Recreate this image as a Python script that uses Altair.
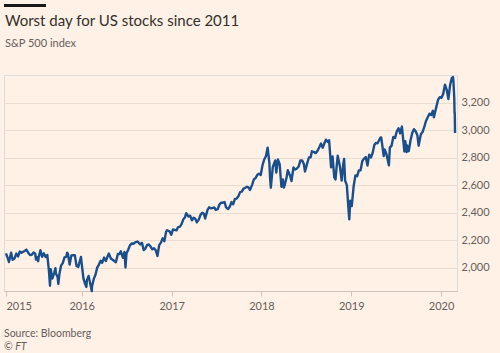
import altair as alt
import pandas as pd

# ---- data (S&P 500 index) ----
dates = [
    "2015-02-27","2015-03-06","2015-03-11","2015-03-20","2015-03-26","2015-04-03","2015-04-10","2015-04-17",
    "2015-04-24","2015-05-01","2015-05-08","2015-05-15","2015-05-21","2015-05-29","2015-06-05","2015-06-12",
    "2015-06-19","2015-06-26","2015-06-29","2015-07-03","2015-07-08","2015-07-10","2015-07-17","2015-07-24",
    "2015-07-31","2015-08-07","2015-08-14","2015-08-21","2015-08-25","2015-08-28","2015-09-04","2015-09-11",
    "2015-09-16","2015-09-18","2015-09-25","2015-09-28","2015-10-02","2015-10-09","2015-10-16","2015-10-23",
    "2015-10-30","2015-11-03","2015-11-06","2015-11-13","2015-11-20","2015-11-27","2015-12-04","2015-12-11",
    "2015-12-18","2015-12-29","2015-12-31",
    "2016-01-08","2016-01-15","2016-01-20","2016-01-22","2016-01-29","2016-02-05","2016-02-11","2016-02-12",
    "2016-02-19","2016-02-26","2016-03-04","2016-03-11","2016-03-18","2016-03-24","2016-04-01","2016-04-08",
    "2016-04-15","2016-04-20","2016-04-29","2016-05-06","2016-05-13","2016-05-19","2016-05-27","2016-06-03",
    "2016-06-08","2016-06-17","2016-06-23","2016-06-27","2016-07-01","2016-07-08","2016-07-15","2016-07-22",
    "2016-07-29","2016-08-05","2016-08-15","2016-08-26","2016-09-02","2016-09-09","2016-09-16","2016-09-23",
    "2016-09-30","2016-10-07","2016-10-14","2016-10-21","2016-10-28","2016-11-04","2016-11-11","2016-11-18",
    "2016-11-25","2016-12-02","2016-12-09","2016-12-13","2016-12-23","2016-12-30",
    "2017-01-06","2017-01-13","2017-01-20","2017-01-27","2017-02-03","2017-02-10","2017-02-17","2017-02-24",
    "2017-03-01","2017-03-10","2017-03-17","2017-03-24","2017-03-31","2017-04-07","2017-04-13","2017-04-21",
    "2017-04-28","2017-05-05","2017-05-12","2017-05-17","2017-05-26","2017-06-02","2017-06-09","2017-06-16",
    "2017-06-23","2017-06-29","2017-07-07","2017-07-14","2017-07-21","2017-07-28","2017-08-04","2017-08-10",
    "2017-08-18","2017-08-25","2017-09-01","2017-09-08","2017-09-15","2017-09-22","2017-09-29","2017-10-06",
    "2017-10-13","2017-10-20","2017-10-27","2017-11-03","2017-11-10","2017-11-15","2017-11-24","2017-12-01",
    "2017-12-08","2017-12-15","2017-12-22","2017-12-29",
    "2018-01-05","2018-01-12","2018-01-19","2018-01-26","2018-02-02","2018-02-05","2018-02-08","2018-02-16",
    "2018-02-26","2018-03-02","2018-03-09","2018-03-16","2018-03-23","2018-03-29","2018-04-02","2018-04-06",
    "2018-04-13","2018-04-18","2018-04-27","2018-05-03","2018-05-11","2018-05-18","2018-05-25","2018-06-01",
    "2018-06-08","2018-06-15","2018-06-22","2018-06-27","2018-07-06","2018-07-13","2018-07-20","2018-07-25",
    "2018-08-03","2018-08-10","2018-08-17","2018-08-24","2018-08-31","2018-09-07","2018-09-14","2018-09-20",
    "2018-09-28","2018-10-03","2018-10-11","2018-10-17","2018-10-24","2018-10-29","2018-11-02","2018-11-07",
    "2018-11-16","2018-11-23","2018-11-30","2018-12-03","2018-12-07","2018-12-14","2018-12-21","2018-12-24",
    "2018-12-28",
    "2019-01-03","2019-01-11","2019-01-18","2019-01-25","2019-02-01","2019-02-08","2019-02-15","2019-02-22",
    "2019-03-01","2019-03-08","2019-03-15","2019-03-22","2019-03-29","2019-04-05","2019-04-12","2019-04-18",
    "2019-04-30","2019-05-03","2019-05-13","2019-05-17","2019-05-24","2019-06-03","2019-06-07","2019-06-14",
    "2019-06-21","2019-06-28","2019-07-05","2019-07-12","2019-07-19","2019-07-26","2019-08-05","2019-08-09",
    "2019-08-14","2019-08-16","2019-08-23","2019-08-30","2019-09-06","2019-09-13","2019-09-20","2019-09-27",
    "2019-10-02","2019-10-11","2019-10-18","2019-10-25","2019-11-01","2019-11-08","2019-11-15","2019-11-22",
    "2019-11-29","2019-12-03","2019-12-13","2019-12-20","2019-12-27",
    "2020-01-03","2020-01-10","2020-01-17","2020-01-24","2020-01-31","2020-02-07","2020-02-14","2020-02-19",
    "2020-02-21","2020-02-24","2020-02-25","2020-02-26","2020-02-27",
]
values = [
    2104,2071,2041,2108,2057,2067,2102,2081,
    2117,2108,2116,2123,2131,2107,2092,2094,
    2110,2101,2058,2077,2047,2076,2127,2079,
    2104,2078,2092,1971,1868,1989,1921,1961,
    1996,1958,1931,1882,1951,2014,2033,2075,
    2079,2109,2099,2023,2089,2090,2091,2012,
    2005,2078,2044,
    1922,1880,1859,1907,1940,1880,1829,1865,
    1918,1948,2000,2022,2050,2035,2073,2048,
    2081,2102,2065,2057,2047,2040,2099,2099,
    2119,2071,2113,2001,2103,2130,2162,2175,
    2174,2183,2190,2169,2180,2128,2139,2165,
    2168,2153,2133,2141,2126,2085,2164,2182,
    2213,2192,2260,2272,2264,2239,
    2277,2275,2271,2295,2297,2316,2351,2367,
    2396,2372,2378,2344,2363,2355,2329,2349,
    2384,2399,2391,2357,2416,2439,2432,2433,
    2438,2419,2425,2459,2473,2472,2477,2438,
    2426,2443,2477,2461,2500,2502,2519,2549,
    2553,2575,2581,2588,2582,2565,2602,2642,
    2652,2675,2683,2674,
    2744,2786,2810,2873,2762,2649,2581,2732,
    2780,2691,2786,2752,2588,2641,2582,2604,
    2656,2708,2670,2630,2728,2713,2721,2735,
    2779,2780,2755,2699,2760,2801,2802,2846,
    2840,2833,2850,2875,2902,2872,2905,2931,
    2914,2926,2729,2809,2656,2641,2723,2814,
    2736,2633,2760,2790,2633,2600,2417,2351,
    2486,
    2448,2596,2671,2665,2707,2708,2776,2793,
    2804,2743,2822,2801,2834,2893,2907,2905,
    2946,2946,2812,2860,2826,2744,2873,2887,
    2950,2942,2990,3014,2977,3026,2845,2919,
    2840,2889,2847,2926,2979,3007,2992,2962,
    2887,2970,2986,3023,3067,3093,3120,3110,
    3141,3093,3169,3221,3240,
    3235,3265,3330,3295,3226,3328,3380,3386,
    3338,3226,3128,3116,2979,
]

title_text = "Worst day for US stocks since 2011"
subtitle_text = "S&P 500 index"
source_text = "Source: Bloomberg"
credit_text = "© FT"

y_ticks = [2000, 2200, 2400, 2600, 2800, 3000, 3200]
x_tick_dates = ["2015-02-27", "2016-01-01", "2017-01-01", "2018-01-01", "2019-01-01", "2020-01-01"]
x_domain = ["2015-02-19", "2020-03-06"]
y_domain = [1830, 3401]


def dt(s):
    return alt.DateTime(year=int(s[:4]), month=int(s[5:7]), date=int(s[8:10]))


df = pd.DataFrame({"date": dates, "value": values})

FONT = "Lato"
BG = "#FFF1E5"
TEXT_DARK = "#33302E"
TEXT_GREY = "#66605C"
LINE = "#1A4F8E"
W, H = 453, 216

line = alt.Chart(df).mark_line(color=LINE, strokeWidth=2.4, strokeJoin="round").encode(
    x=alt.X(
        "date:T",
        scale=alt.Scale(domain=[dt(d) for d in x_domain]),
        axis=alt.Axis(
            title=None,
            values=[dt(d) for d in x_tick_dates],
            format="%Y",
            grid=False,
            domain=True,
            domainColor="#CEC6BE",
            ticks=True,
            tickColor="#CEC6BE",
            tickSize=5,
            labelPadding=4,
            labelFlush=6,
            labelColor=TEXT_GREY,
            labelFontSize=11,
            labelFont=FONT,
        ),
    ),
    y=alt.Y(
        "value:Q",
        scale=alt.Scale(domain=y_domain, nice=False, zero=False),
        axis=alt.Axis(
            title=None,
            orient="right",
            values=y_ticks,
            format=",.0f",
            grid=True,
            gridColor="#E9DDD2",
            domain=False,
            ticks=False,
            labelPadding=4,
            labelAlign="left",
            labelColor=TEXT_GREY,
            labelFontSize=11,
            labelFont=FONT,
        ),
    ),
)

one = alt.Data(values=[{"k": 1}])

bar = alt.Chart(one).mark_rule(color="#1A1817", strokeWidth=3).encode(
    x=alt.value(0), x2=alt.value(42), y=alt.value(-69.5)
)
title = alt.Chart(one).mark_text(
    text=title_text, align="left", baseline="alphabetic", font=FONT, fontSize=15, color=TEXT_DARK
).encode(x=alt.value(1), y=alt.value(-49))
subtitle = alt.Chart(one).mark_text(
    text=subtitle_text, align="left", baseline="alphabetic", font=FONT, fontSize=11, color=TEXT_GREY
).encode(x=alt.value(1), y=alt.value(-28))
source = alt.Chart(one).mark_text(
    text=source_text, align="left", baseline="alphabetic", font=FONT, fontSize=10.5, color=TEXT_GREY
).encode(x=alt.value(0), y=alt.value(H + 46))
credit = alt.Chart(one).mark_text(
    text=credit_text, align="left", baseline="alphabetic", font=FONT, fontSize=10.5,
    fontStyle="italic", color=TEXT_GREY
).encode(x=alt.value(0), y=alt.value(H + 59))

chart = alt.layer(line, bar, title, subtitle, source, credit).properties(
    width=W,
    height=H,
    background=BG,
    padding={"left": 4, "top": 75, "right": 43, "bottom": 62},
    autosize=alt.AutoSizeParams(type="none"),
).configure_view(stroke=None).configure(font=FONT)

chart.save("out.html", embed_options={"renderer": "svg", "actions": False})
